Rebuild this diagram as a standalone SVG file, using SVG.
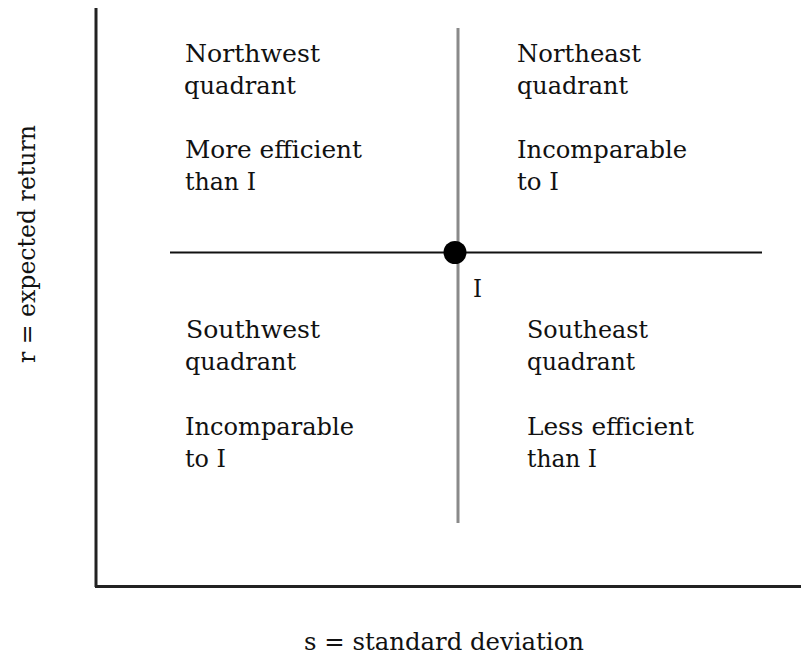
<svg xmlns="http://www.w3.org/2000/svg" width="801" height="655" viewBox="0 0 801 655">
<style>
text{font-family:"DejaVu Serif","Liberation Serif",serif;font-size:24px;fill:#111;}
.axis{stroke:#222;stroke-width:3;fill:none;}
.hline{stroke:#111;stroke-width:2;fill:none;}
.vline{stroke:#8a8a8a;stroke-width:3;fill:none;}
</style>
<rect width="801" height="655" fill="#fff"/>
<g id="connectors">
<line class="axis" x1="96" y1="8" x2="96" y2="587"/>
<line class="axis" x1="95" y1="586.5" x2="801" y2="586.5"/>
<line class="vline" x1="458" y1="28" x2="458" y2="523"/>
<line class="hline" x1="170" y1="252.5" x2="762" y2="252.5"/>
</g>
<g id="point-I">
<circle cx="455" cy="252.5" r="11.5" fill="#000"/>
<text x="473" y="297" textLength="9" lengthAdjust="spacingAndGlyphs">I</text>
</g>
<g id="northwest">
<text x="185" y="62" textLength="135" lengthAdjust="spacingAndGlyphs">Northwest</text>
<text x="184" y="94" textLength="112" lengthAdjust="spacingAndGlyphs">quadrant</text>
<text x="185" y="158" textLength="177" lengthAdjust="spacingAndGlyphs">More efficient</text>
<text x="185" y="190" textLength="71" lengthAdjust="spacingAndGlyphs">than I</text>
</g>
<g id="northeast">
<text x="517" y="62" textLength="124" lengthAdjust="spacingAndGlyphs">Northeast</text>
<text x="517" y="94" textLength="111" lengthAdjust="spacingAndGlyphs">quadrant</text>
<text x="517" y="158" textLength="170" lengthAdjust="spacingAndGlyphs">Incomparable</text>
<text x="517" y="190" textLength="42" lengthAdjust="spacingAndGlyphs">to I</text>
</g>
<g id="southwest">
<text x="186" y="338" textLength="134" lengthAdjust="spacingAndGlyphs">Southwest</text>
<text x="185" y="370" textLength="111" lengthAdjust="spacingAndGlyphs">quadrant</text>
<text x="185" y="435" textLength="169" lengthAdjust="spacingAndGlyphs">Incomparable</text>
<text x="185" y="467" textLength="41" lengthAdjust="spacingAndGlyphs">to I</text>
</g>
<g id="southeast">
<text x="527" y="338" textLength="121" lengthAdjust="spacingAndGlyphs">Southeast</text>
<text x="527" y="370" textLength="108" lengthAdjust="spacingAndGlyphs">quadrant</text>
<text x="527" y="435" textLength="167" lengthAdjust="spacingAndGlyphs">Less efficient</text>
<text x="527" y="467" textLength="70" lengthAdjust="spacingAndGlyphs">than I</text>
</g>
<g id="x-label">
<text x="304" y="650" textLength="280" lengthAdjust="spacingAndGlyphs">s = standard deviation</text>
</g>
<g id="y-label">
<text transform="translate(35,363) rotate(-90)" x="0" y="0" textLength="238" lengthAdjust="spacingAndGlyphs">r = expected return</text>
</g>
</svg>
